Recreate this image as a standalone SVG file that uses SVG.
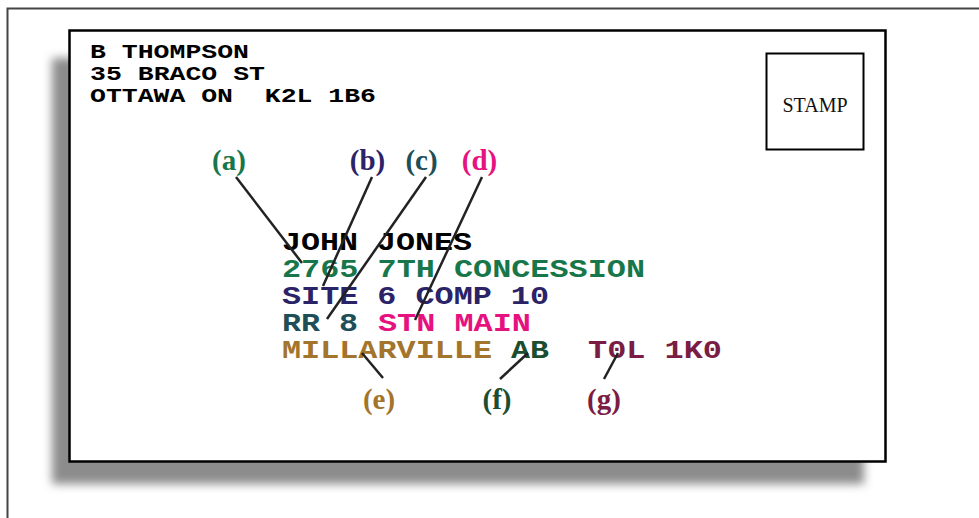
<svg xmlns="http://www.w3.org/2000/svg" width="979" height="518" viewBox="0 0 979 518">
  <defs>
    <filter id="soft" x="-10%" y="-10%" width="120%" height="120%">
      <feGaussianBlur stdDeviation="5"/>
    </filter>
    <style>
      .mono { font-family: "Liberation Mono", "Courier New", monospace; font-weight: bold; white-space: pre; }
      .ret { font-size: 21px; fill: #000; }
      .addr { font-size: 26px; }
      .tag { font-family: "Liberation Serif", "Times New Roman", serif; font-weight: bold; font-size: 29px; text-anchor: middle; }
      .lead { stroke: #222; stroke-width: 2.5; fill: none; }
      .ca { fill: #17774a; } .cb { fill: #2b2368; } .cc { fill: #1e4e58; } .cd { fill: #e6127f; }
      .ce { fill: #a3742c; } .cf { fill: #1b4e30; } .cg { fill: #7b1c44; }
    </style>
  </defs>

  <rect width="979" height="518" fill="#fff"/>
  <!-- outer frame -->
  <rect x="7.5" y="8.5" width="1000" height="600" fill="none" stroke="#444" stroke-width="2"/>

  <!-- envelope with drop shadow -->
  <g id="envelope">
    <rect x="52" y="58" width="812" height="426" fill="#8c8c8c" filter="url(#soft)"/>
    <rect x="69.5" y="30.5" width="816" height="431" fill="#fff" stroke="#000" stroke-width="2.5"/>
  </g>

  <!-- return address -->
  <g id="return-address" class="mono ret">
    <text x="90" y="58" xml:space="preserve" textLength="159" lengthAdjust="spacingAndGlyphs">B THOMPSON</text>
    <text x="90" y="80" xml:space="preserve" textLength="175" lengthAdjust="spacingAndGlyphs">35 BRACO ST</text>
    <text x="90" y="102" xml:space="preserve" textLength="286" lengthAdjust="spacingAndGlyphs">OTTAWA ON  K2L 1B6</text>
  </g>

  <!-- stamp box -->
  <g id="stamp">
    <rect x="766.5" y="53.5" width="97" height="96" fill="none" stroke="#000" stroke-width="2"/>
    <text x="815" y="112" text-anchor="middle" font-family="'Liberation Serif', 'Times New Roman', serif" font-size="20" fill="#111">STAMP</text>
  </g>

  <!-- destination address -->
  <g id="address" class="mono addr">
    <text x="282" y="250" fill="#000" textLength="190" lengthAdjust="spacingAndGlyphs">JOHN JONES</text>
    <text x="282" y="277" class="ca" textLength="363" lengthAdjust="spacingAndGlyphs">2765 7TH CONCESSION</text>
    <text x="282" y="304" class="cb" textLength="267" lengthAdjust="spacingAndGlyphs">SITE 6 COMP 10</text>
    <text x="282" y="331" class="cc" textLength="76" lengthAdjust="spacingAndGlyphs">RR 8</text>
    <text x="378" y="331" class="cd" textLength="153" lengthAdjust="spacingAndGlyphs">STN MAIN</text>
    <text x="282" y="358" class="ce" textLength="210" lengthAdjust="spacingAndGlyphs">MILLARVILLE</text>
    <text x="511" y="358" class="cf" textLength="38" lengthAdjust="spacingAndGlyphs">AB</text>
    <text x="588" y="358" class="cg" textLength="134" lengthAdjust="spacingAndGlyphs">T0L 1K0</text>
  </g>

  <!-- leader lines -->
  <g id="connectors" class="lead">
    <line x1="236" y1="177" x2="302" y2="263"/>
    <line x1="372" y1="177" x2="323" y2="286"/>
    <line x1="426" y1="177" x2="327" y2="319"/>
    <line x1="482" y1="177" x2="415" y2="320"/>
    <line x1="362" y1="353" x2="383" y2="378"/>
    <line x1="528" y1="353" x2="500" y2="379"/>
    <line x1="618" y1="353" x2="604" y2="379"/>
  </g>

  <!-- part labels -->
  <g id="label-a"><text class="tag ca" x="229" y="170">(a)</text></g>
  <g id="label-b"><text class="tag cb" x="367.5" y="170">(b)</text></g>
  <g id="label-c"><text class="tag cc" x="421.5" y="170">(c)</text></g>
  <g id="label-d"><text class="tag cd" x="479.5" y="170">(d)</text></g>
  <g id="label-e"><text class="tag ce" x="379" y="409">(e)</text></g>
  <g id="label-f"><text class="tag cf" x="497" y="409">(f)</text></g>
  <g id="label-g"><text class="tag cg" x="604" y="409">(g)</text></g>
</svg>
